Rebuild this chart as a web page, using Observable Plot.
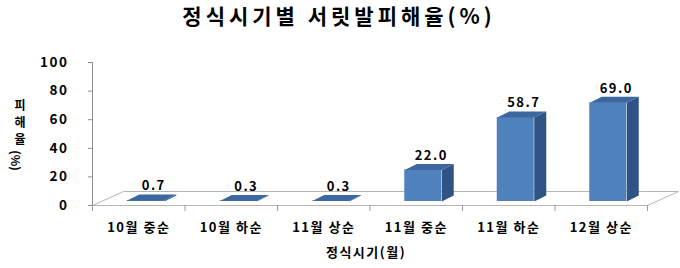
<!DOCTYPE html>
<html>
<head>
<meta charset="utf-8">
<script src="https://cdn.jsdelivr.net/npm/d3@7"></script>
<script src="https://cdn.jsdelivr.net/npm/@observablehq/plot@0.6"></script>
<style>
  html, body { margin: 0; padding: 0; background: #fff; }
  #chart { width: 680px; height: 268px; }
</style>
</head>
<body>
<div id="chart"></div>
<script>
// ---- data ----
const categories = ["10월 중순", "10월 하순", "11월 상순", "11월 중순", "11월 하순", "12월 상순"];
const values = [0.7, 0.3, 0.3, 22.0, 58.7, 69.0];
const yTicks = [0, 20, 40, 60, 80, 100];
const title = "정식시기별 서릿발피해율(%)";
const xTitle = "정식시기(월)";
const yTitleChars = "피\n해\n율";
const yTitleUnit = "(%)";

// ---- layout ----
const W = 680, H = 268;
const mL = 92, mR = 33, mT = 62, mB = 63;
const n = categories.length;
const kx = (W - mL - mR) / n;       // px per category unit
const ky = (H - mT - mB) / 100;     // px per percent
const ux = p => p / kx;             // pixel offset -> x data units
const uy = p => p / ky;             // pixel offset -> y data units

const FRONT_DX = 7, HALF_W = 18.5, BASE_UP = 4, DEPTH_X = 12, DEPTH_Y = 6;
const FLOOR_X = 31, FLOOR_Y = 14;

const fronts = [], sides = [], tops = [];
values.forEach((v, i) => {
  const cx = i + 0.5 + ux(FRONT_DX);
  const x1 = cx - ux(HALF_W), x2 = cx + ux(HALF_W);
  const b = uy(BASE_UP), t = v + b;
  const ddx = ux(DEPTH_X), ddy = uy(DEPTH_Y);
  fronts.push({x1, x2, y1: b, y2: t});
  [[x2, b], [x2 + ddx, b + ddy], [x2 + ddx, t + ddy], [x2, t]]
    .forEach(([x, y]) => sides.push({id: i, x, y}));
  [[x1, t], [x2, t], [x2 + ddx, t + ddy], [x1 + ddx, t + ddy]]
    .forEach(([x, y]) => tops.push({id: i, x, y}));
});
const floor = [[0, 0], [n, 0], [n + ux(FLOOR_X), uy(FLOOR_Y)], [ux(FLOOR_X), uy(FLOOR_Y)], [0, 0]]
  .map(([x, y]) => ({x, y}));

const font = "'Noto Sans CJK KR', 'Noto Sans', sans-serif";

const plot = Plot.plot({
  width: W, height: H,
  marginLeft: mL, marginRight: mR, marginTop: mT, marginBottom: mB,
  x: {type: "linear", domain: [0, n], axis: null},
  y: {type: "linear", domain: [0, 100], axis: null},
  style: {fontFamily: font, fontSize: "13px", fontWeight: "bold", color: "#000", background: "#fff", overflow: "visible"},
  marks: [
    // floor
    Plot.line(floor, {x: "x", y: "y", stroke: "#b5b5b5", strokeWidth: 1, fill: "none"}),
    // bars
    Plot.rect(fronts, {x1: "x1", x2: "x2", y1: "y1", y2: "y2", fill: "#4f81bd"}),
    Plot.line(sides, {x: "x", y: "y", z: "id", fill: "#2f5384", stroke: "none"}),
    Plot.line(tops, {x: "x", y: "y", z: "id", fill: "#3c679f", stroke: "none"}),
    // y axis
    Plot.ruleX([0], {y1: 0, y2: 100, stroke: "#8c8c8c"}),
    Plot.axisY({ticks: yTicks, tickSize: 4, tickPadding: 20, stroke: "#8c8c8c", label: null,
                fontSize: 13.5, fontWeight: "bold", fill: "#000"}),
    // x axis category tick marks
    Plot.axisX({ticks: d3.range(0, n + 1), tickSize: 6, tickFormat: () => "", stroke: "#9a9a9a", label: null}),
    // category labels
    Plot.text(categories, {x: (d, i) => i + 0.5, frameAnchor: "bottom", lineAnchor: "middle", dy: 22, text: d => d,
                           fontSize: 13, fontWeight: "bold", fill: "#000"}),
    // value labels
    Plot.text(values, {x: (d, i) => i + 0.5, y: d => d + uy(BASE_UP), text: d => d3.format(".1f")(d),
                       dx: 15, dy: -14.5, lineAnchor: "middle", fontSize: 13, fontWeight: "bold", fill: "#000"}),
    // titles
    Plot.text([title], {frameAnchor: "top", lineAnchor: "middle", dx: -31, dy: -45, fontSize: 21, fontWeight: "bold", fill: "#000"}),
    Plot.text([xTitle], {frameAnchor: "bottom", lineAnchor: "middle", dx: -4, dy: 47, fontSize: 13, fontWeight: "bold", fill: "#000"}),
    Plot.text([yTitleChars], {frameAnchor: "top-left", lineAnchor: "middle", dx: -78, dy: 59, fontSize: 12, lineHeight: 1.45,
                              fontWeight: "bold", fill: "#000"}),
    Plot.text([yTitleUnit], {x: -ux(78), y: uy(205 - 160), lineAnchor: "middle", rotate: 90, fontSize: 12,
                             fontWeight: "bold", fill: "#000"})
  ]
});
// letter spacing for the Korean text (as in the reference)
d3.select(plot).selectAll("text").style("letter-spacing", "1.5px");
d3.select(plot).selectAll("text").filter(function() { return this.textContent === title; })
  .style("letter-spacing", "4px");
d3.select(plot).selectAll("text").filter(function() { return this.textContent === yTitleUnit; })
  .style("letter-spacing", "0px");
document.getElementById("chart").appendChild(plot);
</script>
</body>
</html>
